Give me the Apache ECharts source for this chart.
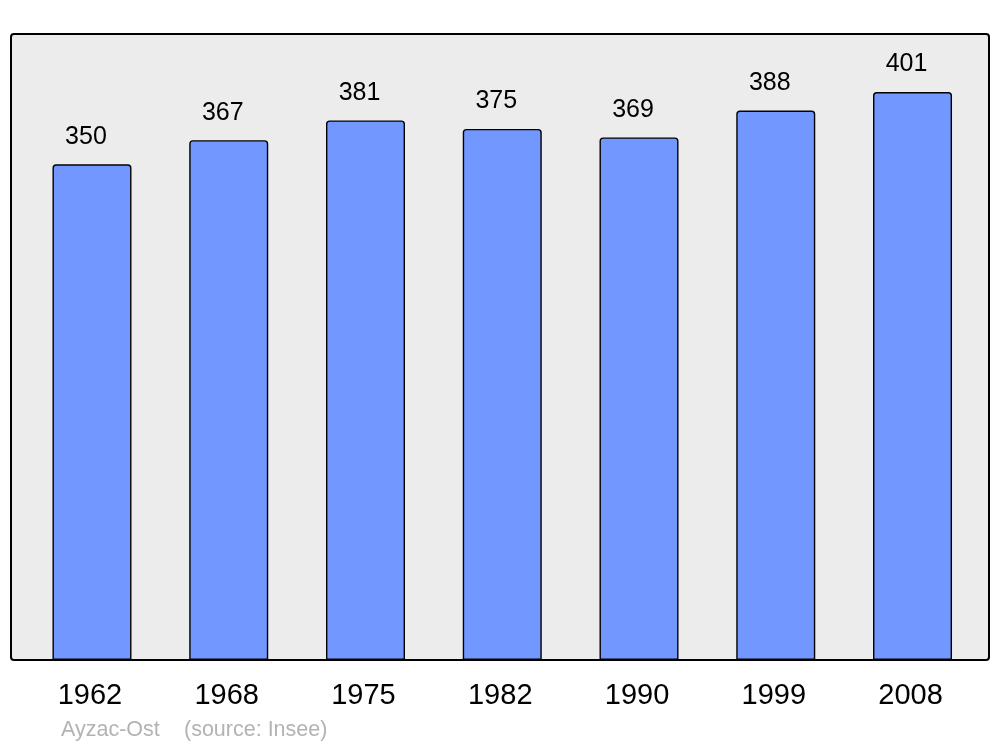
<!DOCTYPE html>
<html>
<head>
<meta charset="utf-8">
<script src="https://cdn.jsdelivr.net/npm/echarts@6/dist/echarts.min.js"></script>
<style>html,body{margin:0;padding:0;background:#fff;}#c{width:1000px;height:747px;}</style>
</head>
<body>
<div id="c"></div>
<script>
const years = ['1962','1968','1975','1982','1990','1999','2008'];
const population = [350, 367, 381, 375, 369, 388, 401];
const commune = 'Ayzac-Ost';
const source = '(source: Insee)';

const chart = echarts.init(document.getElementById('c'), null, {renderer: 'canvas'});
chart.setOption({
  animation: false,
  backgroundColor: '#ffffff',
  textStyle: {fontFamily: 'Liberation Sans, Arial, sans-serif'},
  graphic: [
    {type: 'rect', z: 0, shape: {x: 11, y: 34, width: 978, height: 626, r: 3},
     style: {fill: '#ececec', stroke: '#000000', lineWidth: 2}},
    {type: 'text', left: 61, top: 719, style: {text: commune, fill: '#b3b3b3', font: '21.5px Liberation Sans, Arial, sans-serif'}},
    {type: 'text', left: 184, top: 719, style: {text: source, fill: '#b3b3b3', font: '21.5px Liberation Sans, Arial, sans-serif'}}
  ],
  grid: {left: 23.6, right: 19.1, top: 34, bottom: 87, containLabel: false},
  xAxis: {
    type: 'category', data: years,
    axisLine: {show: false}, axisTick: {show: false},
    axisLabel: {color: '#000', fontSize: 29, margin: 21, padding: [0, 4, 0, 0], fontFamily: 'Liberation Sans, Arial, sans-serif'}
  },
  yAxis: {type: 'value', min: 0, max: 442, show: false, splitLine: {show: false}},
  series: [{
    type: 'bar', data: population, barWidth: 79, z: 2,
    itemStyle: {color: '#7298ff', borderColor: '#000', borderWidth: 1.4, borderRadius: [3,3,0,0]},
    label: {show: true, position: 'top', distance: 15, offset: [-6, 0], color: '#000', fontSize: 25, fontFamily: 'Liberation Sans, Arial, sans-serif'}
  }]
});
</script>
</body>
</html>
